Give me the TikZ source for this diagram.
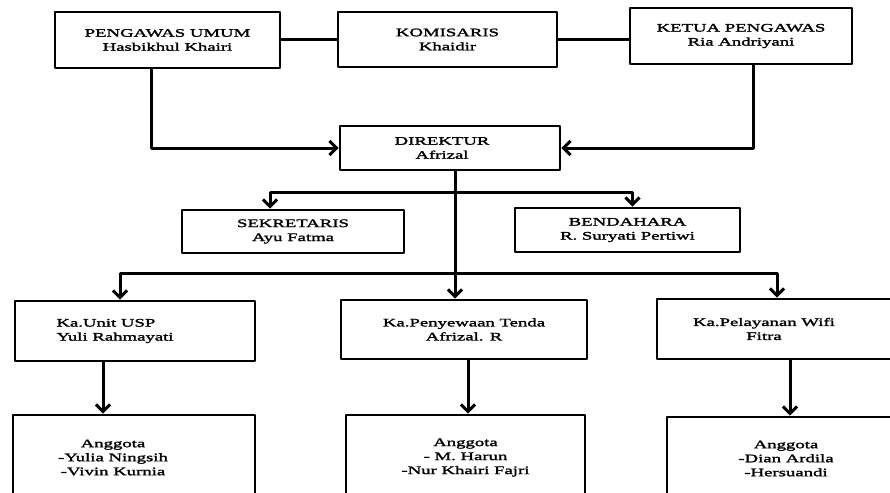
\documentclass[tikz,border=0pt]{standalone}
\usepackage{fontspec}
\setmainfont{Liberation Serif}[FakeStretch=1.63,FakeBold=2]
\usetikzlibrary{arrows.meta}
\begin{document}
\begin{tikzpicture}[x=1pt,y=-1pt,line join=round,font=\fontsize{11.5}{14}\selectfont,
	box/.style={draw,line width=2.8pt,align=center,inner sep=0pt},
	lab/.style={align=center,inner sep=0pt},
	lin/.style={line width=3pt},
	arr/.style={line width=3pt,-{Straight Barb[length=7pt,width=14pt]}}]
	\useasboundingbox (0,0) rectangle (890,492);
	\node[box,minimum width=225pt,minimum height=56pt] (pu) at (167.5,40) {PENGAWAS UMUM\\Hasbikhul Khairi};
	\node[box,minimum width=219pt,minimum height=55pt] (kom) at (447.5,39.5) {KOMISARIS\\Khaidir};
	\node[box,minimum width=222pt,minimum height=56pt] (ketua) at (741,36) {KETUA PENGAWAS\\Ria Andriyani};
	\node[box,minimum width=220pt,minimum height=44pt,label={[lab,xshift=-8pt]center:DIREKTUR\\Afrizal}] (dir) at (450,148) {};
	\node[box,minimum width=222pt,minimum height=43pt] (sek) at (293,231.5) {SEKRETARIS\\Ayu Fatma};
	\node[box,minimum width=225pt,minimum height=44pt] (bend) at (627.5,230) {BENDAHARA\\R. Suryati Pertiwi};
	\node[box,minimum width=240pt,minimum height=60pt,label={[lab,align=left,xshift=-20pt]center:Ka.Unit USP\\Yuli Rahmayati}] (unit) at (135,331) {};
	\node[box,minimum width=246pt,minimum height=59pt] (peny) at (464,329.5) {Ka.Penyewaan Tenda\\Afrizal. R};
	\node[box,minimum width=238pt,minimum height=60pt,label={[lab,xshift=-12pt]center:Ka.Pelayanan Wifi\\Fitra}] (pel) at (776,329) {};
	\node[box,minimum width=242pt,minimum height=85pt,label={[lab,xshift=-21pt]center:Anggota\\-Yulia Ningsih\\-Vivin Kurnia}] (ang1) at (134,457.5) {};
	\node[box,minimum width=239pt,minimum height=85pt] (ang2) at (465.5,457.5) {Anggota\\- M. Harun\\-Nur Khairi Fajri};
	\node[box,minimum width=238pt,minimum height=83pt] (ang3) at (786,458.5) {Anggota\\-Dian Ardila\\-Hersuandi};
	\coordinate (bus1) at (455,192);
	\coordinate (bus2) at (455,273);
	\draw[lin] (pu.east) -- (pu.east -| kom.west) (kom.east) -- (kom.east -| ketua.west);
	\draw[arr] ([xshift=-16pt]pu.south) |- (dir.west);
	\draw[arr] ([xshift=12pt]ketua.south) |- (dir.east);
	\draw[lin] (dir.south -| bus1) -- (bus2);
	\draw[arr] (bus1) -| ([xshift=-23pt]sek.north);
	\draw[arr] (bus1) -| ([xshift=5pt]bend.north);
	\draw[arr] (bus2) -| ([xshift=-15pt]unit.north);
	\draw[arr] (bus2) -- (bus2 |- peny.north);
	\draw[arr] (bus2) -| ([xshift=1pt]pel.north);
	\draw[arr] ([xshift=-32pt]unit.south) -- ([xshift=-32pt]unit.south |- ang1.north);
	\draw[arr] ([xshift=4pt]peny.south) -- ([xshift=4pt]peny.south |- ang2.north);
	\draw[arr] ([xshift=14pt]pel.south) -- ([xshift=14pt]pel.south |- ang3.north);
\end{tikzpicture}
\end{document}
